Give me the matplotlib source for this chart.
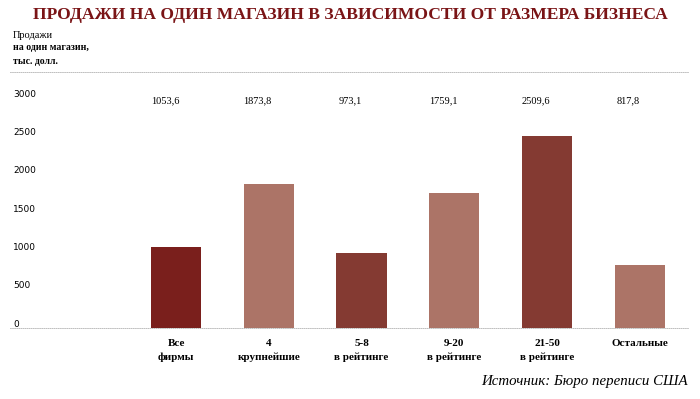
import matplotlib.pyplot as plt
from matplotlib import transforms

# data
categories = ["Все\nфирмы", "4\nкрупнейшие", "5-8\nв рейтинге",
              "9-20\nв рейтинге", "21-50\nв рейтинге", "Остальные"]
sales = [1053.6, 1873.8, 973.1, 1759.1, 2509.6, 817.8]
value_labels = ["1053,6", "1873,8", "973,1", "1759,1", "2509,6", "817,8"]
y_ticks = [0, 500, 1000, 1500, 2000, 2500, 3000]

bar_colors = ["#7a1f1c", "#ac7467", "#843a32", "#ac7467", "#843a32", "#ac7467"]
title_color = "#7a1416"
serif = "Liberation Serif"

plt.rcParams.update({
    'font.family': serif,
    'font.size': 8,
})

fig = plt.figure(figsize=(7, 3.99), dpi=100)
ax = fig.add_axes([10 / 700, 71 / 399, 678 / 700, 256 / 399])

x = list(range(len(sales)))
ax.bar(x, sales, width=0.54, color=bar_colors, zorder=2)

ax.set_xlim(-1.79, 5.52)
ax.set_ylim(0, 3340)

for side in ["left", "right"]:
    ax.spines[side].set_visible(False)
for side in ["top", "bottom"]:
    ax.spines[side].set_linestyle((0, (1, 1.5)))
    ax.spines[side].set_color("#b4b4b4")
    ax.spines[side].set_linewidth(0.6)

ax.set_yticks([])
ax.set_xticks(x)
ax.set_xticklabels(categories, fontsize=8, fontweight="bold", linespacing=1.6)
ax.tick_params(axis="x", length=0, pad=8)

# y scale labels, sitting just above their values
trans = transforms.blended_transform_factory(ax.transAxes, ax.transData)
for t in y_ticks:
    ax.text(0.005, t + 50, str(t), transform=trans, ha="left", va="center",
            fontsize=6.5, family="DejaVu Sans")

# values printed on the row of the 3000 label
for xi, lab in zip(x, value_labels):
    ax.text(xi - 0.12, 2960, lab, ha="center", va="center", fontsize=7.5)

fig.text(0.5, 0.962, "ПРОДАЖИ НА ОДИН МАГАЗИН В ЗАВИСИМОСТИ ОТ РАЗМЕРА БИЗНЕСА",
         ha="center", va="center", fontsize=12.6, fontweight="bold", color=title_color)

fig.text(13 / 700, 1 - 35 / 399, "Продажи", ha="left", va="center", fontsize=7.5)
fig.text(13 / 700, 1 - 48 / 399, "на один магазин,", ha="left", va="center",
         fontsize=7, fontweight="bold")
fig.text(13 / 700, 1 - 62 / 399, "тыс. долл.", ha="left", va="center",
         fontsize=7, fontweight="bold")

fig.text(688 / 700, 1 - 381 / 399, "Источник: Бюро переписи США",
         ha="right", va="center", fontsize=10.7, style="italic")

fig.savefig("out.png", dpi=100)
